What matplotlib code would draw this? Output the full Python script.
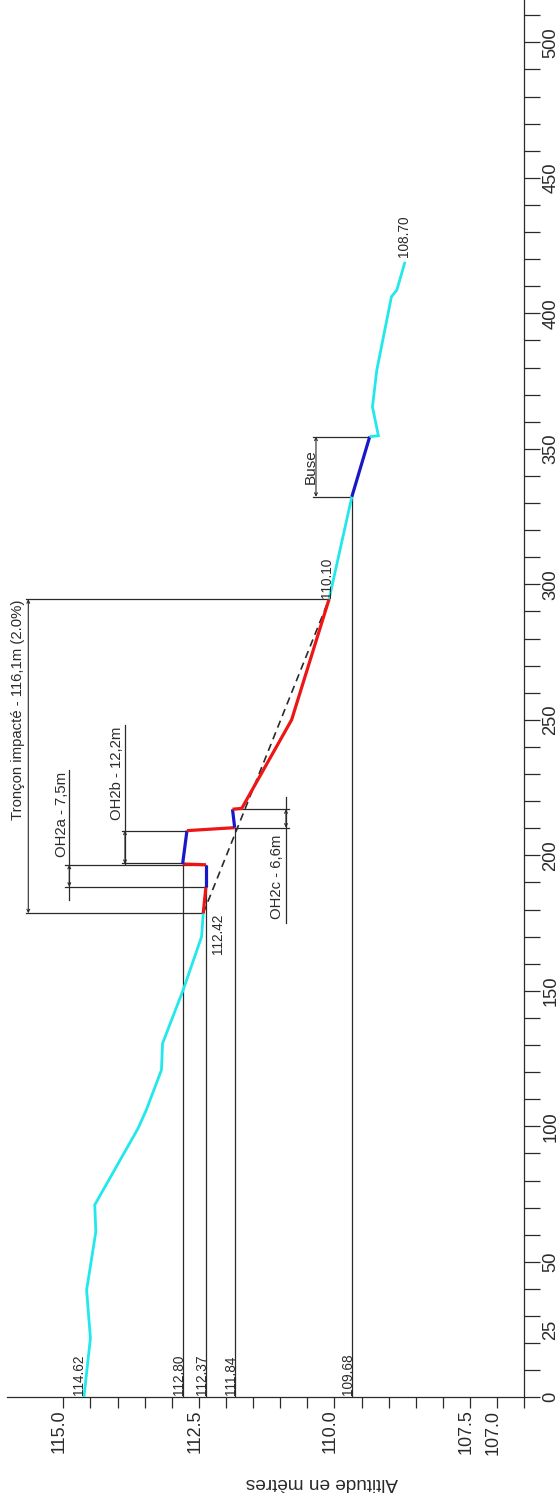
import numpy as np
import matplotlib
matplotlib.use("Agg")
import matplotlib.pyplot as plt

plt.rcParams['font.family'] = ['Liberation Sans', 'DejaVu Sans']

# ---------------- data ----------------
profile_dist = [0.0, 21.8, 39.6, 61.1, 71.0, 99.3, 106.0, 120.8, 130.6, 150.3, 170.0,
                178.6, 188.4, 196.5, 196.8, 209.1, 210.2, 217.0, 217.3, 250.0, 294.5,
                332.3, 354.5, 354.8, 365.5, 379.0, 406.1, 408.6, 419.0]
profile_alt = [114.62, 114.50, 114.57, 114.40, 114.42, 113.62, 113.47, 113.19, 113.17, 112.79, 112.45,
               112.42, 112.37, 112.37, 112.80, 112.72, 111.84, 111.88, 111.71, 110.79, 110.10,
               109.68, 109.35, 109.19, 109.30, 109.22, 108.95, 108.85, 108.70]
# colour class of each interval between consecutive profile points
segment_kind = (['natural'] * 11 +
                ['impacted', 'structure', 'impacted', 'structure', 'impacted', 'structure',
                 'impacted', 'impacted', 'impacted',
                 'natural', 'structure'] +
                ['natural'] * 6)

ref_levels = [112.80, 112.37, 111.84, 109.68]
ref_top_dist = [196.8, 188.4, 210.2, 332.3]

point_label_values = [114.62, 112.42, 110.10, 108.70]

troncon_range = (178.6, 294.5)
troncon_label = "Tronçon impacté - 116,1m (2.0%)"
oh_names = ["OH2a - 7,5m", "OH2b - 12,2m", "OH2c - 6,6m"]
oh_ranges = [(188.4, 196.5), (196.8, 209.1), (210.2, 217.0)]
buse_range = (332.3, 354.5)
buse_label = "Buse"

alt_tick_values = list(np.arange(115.0, 106.49, -0.5))
alt_tick_labels = {115.0: "115.0", 112.5: "112.5", 110.0: "110.0", 107.5: "107.5", 107.0: "107.0"}
dist_tick_values = list(range(0, 511, 10))
dist_label_values = [0, 25, 50, 100, 150, 200, 250, 300, 350, 400, 450, 500]

# ---------------- layout helpers ----------------
W, H = 558, 1499
def alt_px(p):   # horizontal pixel -> altitude
    return 115.0 - (p - 63.3) / 54.24
def dist_py(p):  # vertical pixel (from top) -> distance
    return (1397.3 - p) / 2.71

colors = {'natural': '#22E8EC', 'impacted': '#EE1515', 'structure': '#1818C8'}
widths = {'natural': 2.0, 'impacted': 2.3, 'structure': 2.3}
ink = '#2a2a2a'

fig = plt.figure(figsize=(W / 100, H / 100), dpi=100)
ax = fig.add_axes([6.7 / W, (H - 1397.3) / H, (524.3 - 6.7) / W, 1397.3 / H])
ax.set_xlim(alt_px(6.7), alt_px(524.3))
ax.set_ylim(0, dist_py(0))

for s in ['top', 'left']:
    ax.spines[s].set_visible(False)
for s in ['right', 'bottom']:
    ax.spines[s].set_linewidth(0.9)
    ax.spines[s].set_color(ink)

ax.set_xticks(alt_tick_values)
ax.set_xticklabels([])
ax.tick_params(axis='x', direction='out', length=8, width=0.9, color=ink)
ax.yaxis.tick_right()
ax.set_yticks(dist_tick_values)
ax.set_yticklabels([])
ax.tick_params(axis='y', direction='out', length=11.3, width=0.9, color=ink)

# tick labels
for v in alt_tick_values:
    key = round(v, 1)
    if key in alt_tick_labels:
        ax.annotate(alt_tick_labels[key], xy=(v, 0), xytext=(0.3, -8.8), textcoords='offset points',
                    rotation=90, rotation_mode='anchor', ha='right', va='baseline',
                    fontsize=13.0, color=ink, annotation_clip=False)
for v in dist_label_values:
    ax.annotate(str(v), xy=(106.5, v), xytext=(22.5, 0), textcoords='offset points',
                rotation=90, rotation_mode='anchor', ha='center', va='baseline',
                fontsize=13.2, color=ink, annotation_clip=False)

fig.text(322 / W, 1 - 1482 / H, "Altitude en mètres", rotation=180, ha='center', va='center',
         fontsize=13.7, color=ink)

# reference levels (lines from axis up to profile) with labels
for lvl, top in zip(ref_levels, ref_top_dist):
    ax.plot([lvl, lvl], [0, top], color=ink, lw=0.9, zorder=2)
    ax.annotate(f"{lvl:.2f}", xy=(lvl, 0), xytext=(0.4, 1.6), textcoords='offset points',
                rotation=90, rotation_mode='anchor', ha='left', va='baseline',
                fontsize=9.8, color=ink)

# slope line of impacted reach
i0 = profile_dist.index(troncon_range[0])
i1 = profile_dist.index(troncon_range[1])
ax.plot([profile_alt[i0], profile_alt[i1]], [profile_dist[i0], profile_dist[i1]],
        color=ink, lw=1.2, linestyle=(0, (4.5, 3)), zorder=3)

# profile drawn in runs of same colour
start = 0
for k in range(1, len(segment_kind) + 1):
    if k == len(segment_kind) or segment_kind[k] != segment_kind[start]:
        kind = segment_kind[start]
        ax.plot(profile_alt[start:k + 1], profile_dist[start:k + 1], color=colors[kind],
                lw=widths[kind], solid_joinstyle='miter', solid_capstyle='butt', zorder=4)
        start = k

def alt_at(d):
    return profile_alt[profile_dist.index(d)]

# point labels
lab_offsets = {114.62: (-0.4, 1.5, 'left', 0), 112.42: (13.2, 0, 'right', i0),
               110.10: (1.7, 0.8, 'left', i1), 108.70: (2.2, 3.4, 'left', len(profile_alt) - 1)}
for v in point_label_values:
    dx, dy, ha, idx = lab_offsets[v]
    ax.annotate(f"{v:.2f}", xy=(profile_alt[idx], profile_dist[idx]), xytext=(dx, dy),
                textcoords='offset points', rotation=90, rotation_mode='anchor',
                ha=ha, va='baseline', fontsize=9.8, color=ink, zorder=6)

def dim_arrow(x, d0, d1):
    ax.annotate('', xy=(x, d1), xytext=(x, d0),
                arrowprops=dict(arrowstyle='<->', lw=0.8, color=ink, mutation_scale=5,
                                shrinkA=0, shrinkB=0))

def ext_line(d, x_from, x_to):
    ax.plot([x_from, x_to], [d, d], color=ink, lw=0.9, zorder=2)

ann_fs = 10.7
# Tronçon impacté
xt = alt_px(28.3)
for d in troncon_range:
    ext_line(d, alt_px(26), alt_at(d))
dim_arrow(xt, troncon_range[0], troncon_range[1])
ax.text(alt_px(22.5), troncon_range[1] - 0.2, troncon_label, rotation=90, rotation_mode='anchor',
        ha='right', va='baseline', fontsize=ann_fs, color=ink)

# OH2a
xa = alt_px(69.3)
ext_line(oh_ranges[0][0], alt_px(65), alt_at(oh_ranges[0][0]))
ext_line(oh_ranges[0][1], alt_px(65), alt_at(oh_ranges[0][1]))
ax.plot([xa, xa], [dist_py(900), dist_py(770)], color=ink, lw=0.9)
dim_arrow(xa, oh_ranges[0][0], oh_ranges[0][1])
ax.text(alt_px(66), oh_ranges[0][1] + 3.0, oh_names[0], rotation=90, rotation_mode='anchor',
        ha='left', va='baseline', fontsize=ann_fs, color=ink)

# OH2b
xb = alt_px(125)
ext_line(oh_ranges[1][0] + 0.2, alt_px(122), alt_at(oh_ranges[1][0]))
ext_line(oh_ranges[1][1], alt_px(122), alt_at(oh_ranges[1][1]))
ax.plot([xb, xb], [oh_ranges[1][0], dist_py(725)], color=ink, lw=0.9)
dim_arrow(xb, oh_ranges[1][0], oh_ranges[1][1])
ax.text(alt_px(121), oh_ranges[1][1] + 3.9, oh_names[1], rotation=90, rotation_mode='anchor',
        ha='left', va='baseline', fontsize=ann_fs, color=ink)

# OH2c
xc = alt_px(286)
ext_line(oh_ranges[2][0], alt_at(oh_ranges[2][0]), alt_px(289.3))
ext_line(oh_ranges[2][1], alt_at(oh_ranges[2][1]), alt_px(289.3))
ax.plot([xc, xc], [dist_py(923.3), dist_py(796.7)], color=ink, lw=0.9)
dim_arrow(xc, oh_ranges[2][0], oh_ranges[2][1])
ax.text(alt_px(281.5), oh_ranges[2][0] - 2.7, oh_names[2], rotation=90, rotation_mode='anchor',
        ha='right', va='baseline', fontsize=ann_fs, color=ink)

# Buse
xbu = alt_px(316)
for d in buse_range:
    ext_line(d, alt_px(313.3), alt_at(d))
dim_arrow(xbu, buse_range[0], buse_range[1])
ax.text(alt_px(314.5), (buse_range[0] + buse_range[1]) / 2, buse_label, rotation=90,
        rotation_mode='anchor', ha='center', va='baseline', fontsize=11.0, color=ink)

fig.savefig("out.png", dpi=100, facecolor='white')
